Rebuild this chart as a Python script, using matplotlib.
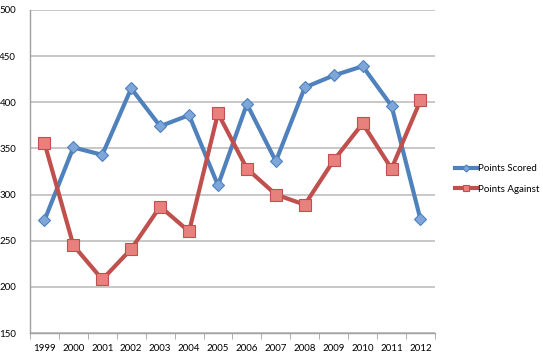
import numpy as np
import matplotlib.pyplot as plt

years = ["1999", "2000", "2001", "2002", "2003", "2004", "2005",
         "2006", "2007", "2008", "2009", "2010", "2011", "2012"]
points_scored = [272, 351, 343, 415, 374, 386, 310, 398, 336, 416, 429, 439, 396, 273]
points_against = [356, 245, 208, 241, 287, 260, 388, 328, 300, 289, 337, 377, 328, 402]

plt.rcParams['font.family'] = ['Lato', 'DejaVu Sans']

fig = plt.figure(figsize=(5.43, 3.54), dpi=100)
ax = fig.add_axes([0.0552, 0.0593, 0.7458, 0.9127])

x = np.arange(len(years))
ax.plot(x, points_scored, color='#4F81BD', lw=3, marker='D', ms=6,
        mfc='#7EA6D8', mec='#4F81BD', mew=0.8, label="Points Scored", zorder=3)
ax.plot(x, points_against, color='#C0504D', lw=3, marker='s', ms=8,
        mfc='#E8807D', mec='#C0504D', mew=0.8, label="Points Against", zorder=3)

ax.set_xlim(-0.5, len(years) - 0.5)
ax.set_ylim(150, 500)
ax.set_yticks(np.arange(150, 501, 50))
ax.set_xticks(x)
ax.set_xticklabels(years)
ax.set_xticks(np.arange(-0.5, len(years)), minor=True)
ax.tick_params(axis='x', which='major', length=0, labelsize=7, pad=8)
ax.tick_params(axis='x', which='minor', length=4, color='#A0A0A0', direction='out')
ax.tick_params(axis='y', length=0, labelsize=7, pad=10)

ax.grid(axis='y', color='#C4C4C4', lw=1.3)
ax.set_axisbelow(True)
for side in ['top', 'right']:
    ax.spines[side].set_visible(False)
for side in ['left', 'bottom']:
    ax.spines[side].set_color('#A0A0A0')
    ax.spines[side].set_linewidth(1)

fig.legend(loc='center left', bbox_to_anchor=(0.822, 0.495), frameon=False,
           fontsize=7, handlelength=2.3, handletextpad=0.05, labelspacing=1.2,
           markerscale=0.6)

fig.savefig("out.png", dpi=100)
